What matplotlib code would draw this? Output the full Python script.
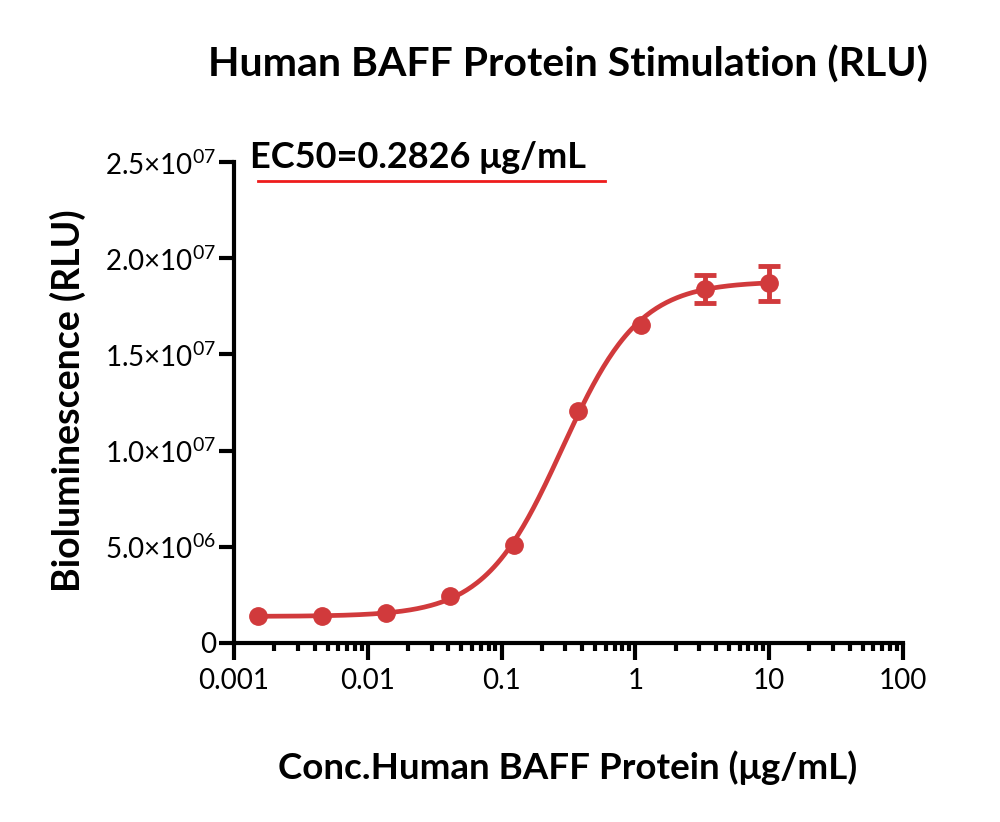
import matplotlib
matplotlib.use("Agg")
import matplotlib.pyplot as plt
import numpy as np
from matplotlib.ticker import FixedLocator, FuncFormatter, LogLocator, NullFormatter

plt.rcParams['font.family'] = ['Lato', 'DejaVu Sans']
plt.rcParams['mathtext.fontset'] = 'custom'
plt.rcParams['mathtext.rm'] = 'Lato'

# data
conc = [0.00152, 0.00457, 0.0137, 0.0412, 0.123, 0.370, 1.11, 3.33, 10.0]
rlu = [1.40e6, 1.42e6, 1.58e6, 2.44e6, 5.08e6, 1.205e7, 1.655e7, 1.84e7, 1.87e7]
err = [0, 0, 0, 0, 0, 0, 0, 0.72e6, 0.9e6]

# 4PL fit parameters
bottom = 1.38e6
top = 1.88e7
ec50 = 0.2826
hill = 1.5

y_ticks = [0, 5e6, 1e7, 1.5e7, 2e7, 2.5e7]
x_ticks = [0.001, 0.01, 0.1, 1, 10, 100]
x_labels = ['0.001', '0.01', '0.1', '1', '10', '100']

red = '#d13a3c'

fig = plt.figure(figsize=(10, 8.22), dpi=100)
ax = fig.add_axes([0.234, 0.2178, 0.669, 0.585])

xs = np.logspace(np.log10(conc[0]), np.log10(conc[-1]), 300)
fit = bottom + (top - bottom) / (1 + (ec50 / xs) ** hill)
ax.plot(xs, fit, color=red, lw=3.4, zorder=2)
ax.plot(conc, rlu, 'o', color=red, ms=12.5, zorder=3)
ex = [c for c, e in zip(conc, err) if e > 0]
ey = [r for r, e in zip(rlu, err) if e > 0]
ee = [e for e in err if e > 0]
ax.errorbar(ex, ey, yerr=ee, fmt='none', ecolor=red, capsize=8,
            capthick=3.5, elinewidth=3.5, zorder=3)

ax.set_xscale('log')
ax.set_xlim(0.001, 100)
ax.set_ylim(0, 2.5e7)

ax.xaxis.set_major_locator(FixedLocator(x_ticks))
ax.set_xticklabels(x_labels)
ax.xaxis.set_minor_locator(LogLocator(base=10, subs=np.arange(2, 10)))
ax.xaxis.set_minor_formatter(NullFormatter())

def yfmt(v, pos):
    if v == 0:
        return '0'
    e = int(np.floor(np.log10(v)))
    m = v / 10 ** e
    return '%.1f×10$^{\\mathregular{%02d}}$' % (m, e)

ax.yaxis.set_major_locator(FixedLocator(y_ticks))
ax.yaxis.set_major_formatter(FuncFormatter(yfmt))

for s in ['top', 'right']:
    ax.spines[s].set_visible(False)
for s in ['left', 'bottom']:
    ax.spines[s].set_linewidth(3)

ax.tick_params(axis='x', which='major', length=12, width=3, labelsize=20, pad=6)
ax.tick_params(axis='x', which='minor', length=6, width=3)
ax.tick_params(axis='y', which='major', length=11, width=3, labelsize=20, pad=2)

fig.text(0.568, 0.921, 'Human BAFF Protein Stimulation (RLU)', ha='center',
         va='center', fontsize=29.5, fontweight='bold')
fig.text(0.568, 0.066, 'Conc.Human BAFF Protein (μg/mL)', ha='center',
         va='center', fontsize=26.5, fontweight='bold')
fig.text(0.068, 0.513, 'Bioluminescence (RLU)', ha='center', va='center',
         rotation=90, fontsize=27, fontweight='bold')

fig.text(0.250, 0.808, 'EC50=0.2826 μg/mL', ha='left', va='center',
         fontsize=26, fontweight='bold')
fig.add_artist(plt.Line2D([0.258, 0.605], [0.780, 0.780], color='#ee1c1c', lw=2))

fig.savefig('out.png', dpi=100)
